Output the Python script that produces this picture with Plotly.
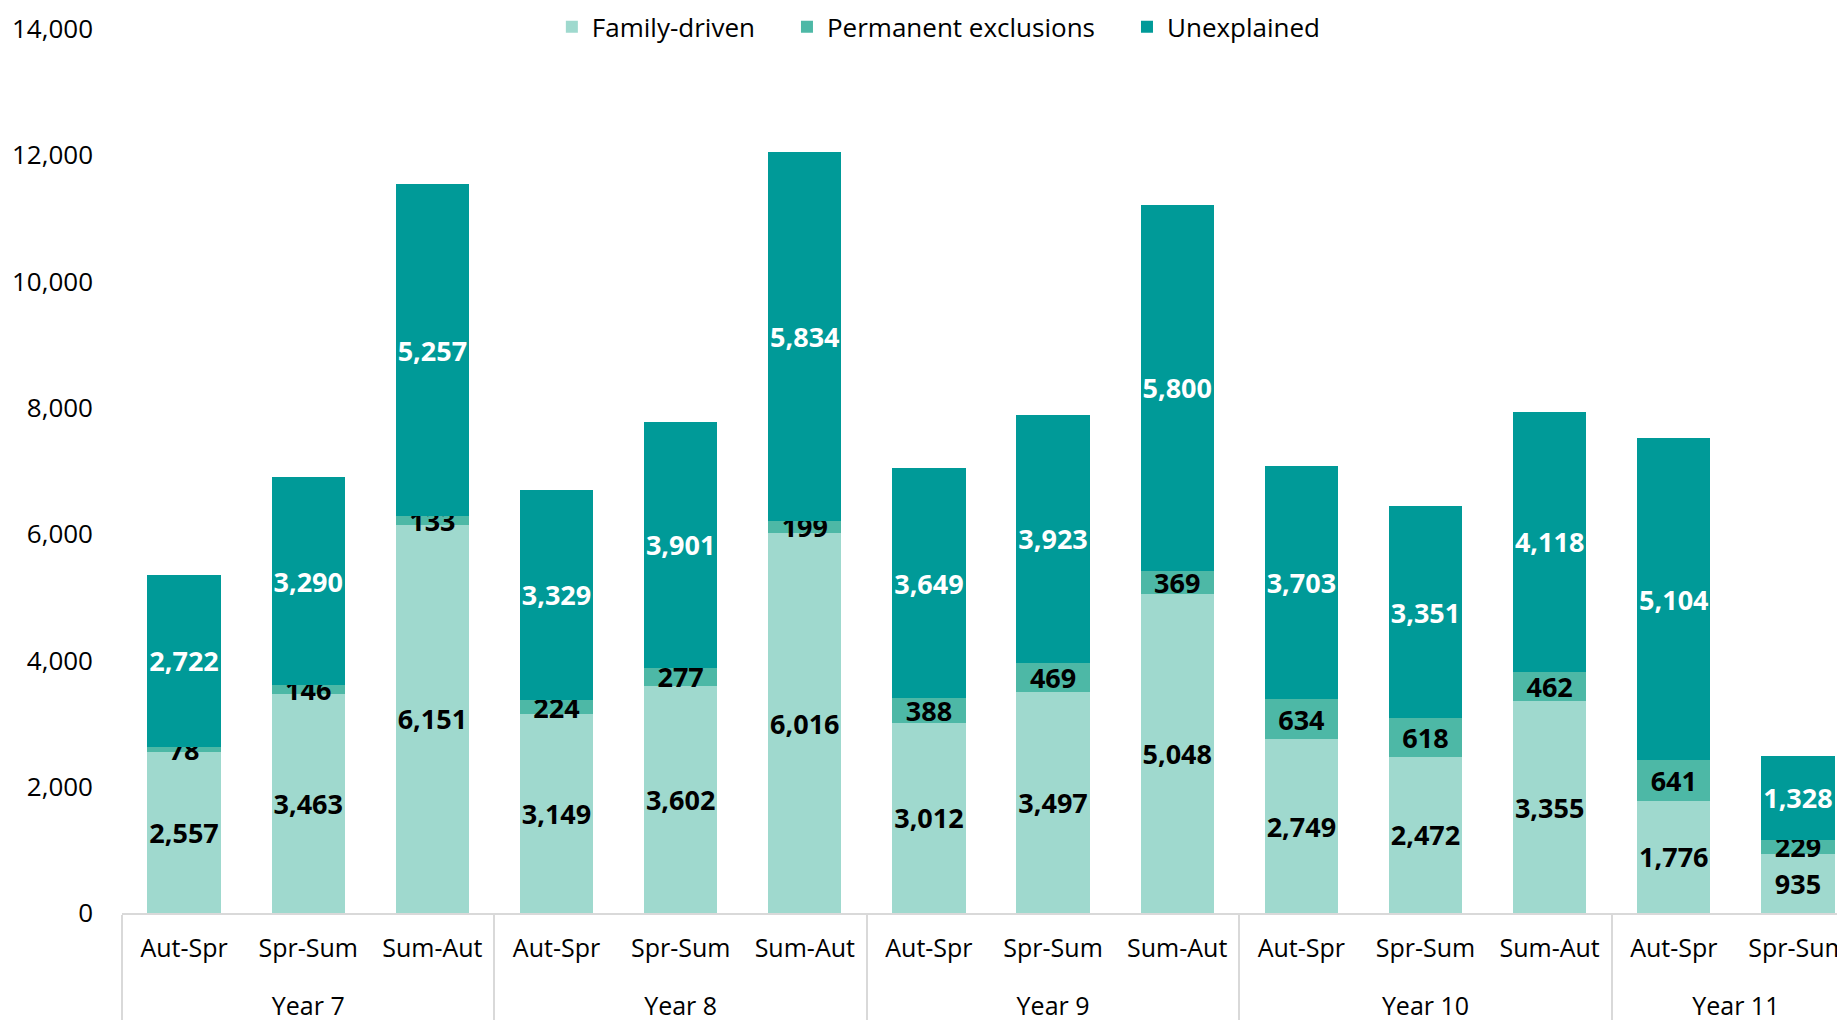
import plotly.graph_objects as go

years = ['Year 7'] * 3 + ['Year 8'] * 3 + ['Year 9'] * 3 + ['Year 10'] * 3 + ['Year 11'] * 2
periods = ['Aut-Spr', 'Spr-Sum', 'Sum-Aut'] * 4 + ['Aut-Spr', 'Spr-Sum']

family_driven = [2557, 3463, 6151, 3149, 3602, 6016, 3012, 3497, 5048, 2749, 2472, 3355, 1776, 935]
permanent_exclusions = [78, 146, 133, 224, 277, 199, 388, 469, 369, 634, 618, 462, 641, 229]
unexplained = [2722, 3290, 5257, 3329, 3901, 5834, 3649, 3923, 5800, 3703, 3351, 4118, 5104, 1328]

series_names = ['Family-driven', 'Permanent exclusions', 'Unexplained']
series_values = [family_driven, permanent_exclusions, unexplained]
bar_colours = ['#9fd9ce', '#4db8a6', '#009a98']
label_colours = ['black', 'black', 'white']

FONT = 'Open Sans'

# a blank trailing line under the period labels pushes the year row further down
period_labels = [p + '<br><span style="font-size:28px">\u00a0</span>' for p in periods]
# extra spacing between legend entries
legend_pad = ['\u00a0' * 4, '\u00a0' * 4, '']

fig = go.Figure()
for name, vals, colour, txtcol, pad in zip(series_names, series_values, bar_colours, label_colours, legend_pad):
    fig.add_trace(
        go.Bar(
            x=[years, period_labels],
            y=vals,
            name=name + pad,
            marker_color=colour,
            marker_line_width=0,
            text=[f'{v:,}' for v in vals],
            textposition='inside',
            insidetextanchor='middle',
            textangle=0,
            constraintext='none',
            textfont=dict(family=FONT, size=27, color=txtcol, weight='bold'),
            hoverinfo='skip'
        )
    )

fig.update_layout(
    barmode='stack',
    bargap=0.41,
    width=1872,
    height=1035,
    margin=dict(l=114, r=20, t=21, b=130, autoexpand=False),
    plot_bgcolor='white',
    paper_bgcolor='white',
    font=dict(family=FONT, size=25, color='black'),
    uniformtext=dict(minsize=27, mode='show'),
    legend=dict(
        orientation='h',
        traceorder='normal',
        x=0.47,
        xanchor='center',
        y=1.0025,
        yanchor='middle',
        font=dict(family=FONT, size=26),
        itemwidth=30,
        bgcolor='rgba(0,0,0,0)'
    ),
    showlegend=True
)

fig.update_xaxes(
    type='multicategory',
    showline=True,
    linecolor='#d9d9d9',
    linewidth=2,
    showdividers=True,
    dividercolor='#d9d9d9',
    dividerwidth=2,
    tickfont=dict(family=FONT, size=25),
    ticklabelstandoff=12,
    showgrid=False
)

fig.update_yaxes(
    range=[0, 14000],
    dtick=2000,
    tickformat=',',
    showgrid=False,
    showline=False,
    zeroline=False,
    ticks='',
    tickfont=dict(family=FONT, size=26),
    ticklabelstandoff=28
)

fig.write_html('out.html')
